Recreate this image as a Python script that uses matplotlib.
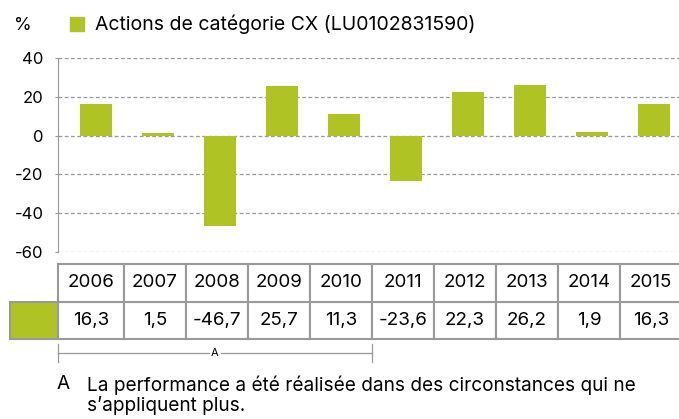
import matplotlib.pyplot as plt
import numpy as np
from matplotlib.patches import Rectangle

plt.rcParams['font.family'] = ['Inter', 'DejaVu Sans']

years = ['2006', '2007', '2008', '2009', '2010', '2011', '2012', '2013', '2014', '2015']
values = [16.3, 1.5, -46.7, 25.7, 11.3, -23.6, 22.3, 26.2, 1.9, 16.3]
series_name = 'Actions de catégorie CX (LU0102831590)'
yticks = [40, 20, 0, -20, -40, -60]
footnote = 'La performance a été réalisée dans des circonstances qui ne\ns\u2019appliquent plus.'
bracket_label = 'A'
bracket_years = ('2006', '2010')

green = '#afc325'
grey = '#999999'
W, H = 679, 419

fig = plt.figure(figsize=(W / 100, H / 100), dpi=100)


def px_axes(x0, y0, x1, y1):
    # pixel box (top-left origin) -> figure axes
    return fig.add_axes([x0 / W, 1 - y1 / H, (x1 - x0) / W, (y1 - y0) / H])


xlim = (-0.613, 9.40)
x = np.arange(len(years))

ax = px_axes(58, 58, 679, 252)
ax.bar(x, values, width=0.52, color=green, zorder=3)
ax.set_xlim(*xlim)
ax.set_ylim(-60, 40)
ax.set_yticks(yticks)
ax.set_yticklabels([str(t) for t in yticks], fontsize=12)
ax.set_xticks([])
ax.grid(axis='y', linestyle=(0, (3, 2)), color=grey, linewidth=0.9)
for s in ['top', 'right', 'bottom']:
    ax.spines[s].set_visible(False)
ax.spines['left'].set_color(grey)
ax.tick_params(axis='y', length=2.5, color=grey, pad=8)

# legend / header
fig.text(14 / W, 1 - 25 / H, '%', fontsize=13, va='center', ha='left')
fig.patches.append(Rectangle((70 / W, 1 - 31 / H), 14 / W, 14 / H,
                             transform=fig.transFigure, color=green))
fig.text(95 / W, 1 - 24 / H, series_name, fontsize=14, va='center', ha='left')

# table below the chart
tab = px_axes(58, 264, 679, 339)
tab.set_xlim(*xlim)
tab.set_ylim(0, 2)
tab.axis('off')
edges = [xlim[0]] + list(x + 0.45)
for i, (yr, v) in enumerate(zip(years, values)):
    l, r = edges[i], edges[i + 1]
    for row in (0, 1):
        tab.add_patch(Rectangle((l, row), r - l, 1, facecolor='white',
                                edgecolor=grey, linewidth=1.5, clip_on=False))
    cx = (l + r) / 2
    tab.text(cx, 1.5, yr, ha='center', va='center', fontsize=13.5)
    tab.text(cx, 0.5, f'{v:.1f}'.replace('.', ','), ha='center', va='center', fontsize=13.5)
# colour key cell, from about 10 px to the table's left edge
key_left = -1.387
tab.add_patch(Rectangle((key_left, 0), xlim[0] - key_left, 1, facecolor=green,
                        edgecolor=grey, linewidth=1.5, clip_on=False))

# bracket under the first five years
br = px_axes(58, 340, 679, 366)
br.set_xlim(*xlim)
br.set_ylim(0, 1)
br.axis('off')
b0 = xlim[0]
b1 = edges[years.index(bracket_years[1]) + 1]
bm = (b0 + b1) / 2
br.plot([b0, bm - 0.1], [0.5, 0.5], color=grey, lw=0.9, clip_on=False)
br.plot([bm + 0.1, b1], [0.5, 0.5], color=grey, lw=0.9, clip_on=False)
br.plot([b0, b0], [0.15, 0.85], color=grey, lw=0.9, clip_on=False)
br.plot([b1, b1], [0.15, 0.85], color=grey, lw=0.9, clip_on=False)
br.text(bm, 0.5, bracket_label, ha='center', va='center', fontsize=8)

# footnote
fig.text(57 / W, 1 - 384 / H, 'A', fontsize=13.7, va='center', ha='left')
fig.text(87 / W, 1 - 395 / H, footnote, fontsize=13.7, va='center', ha='left',
         linespacing=1.05)

fig.savefig('out.png', dpi=100)
